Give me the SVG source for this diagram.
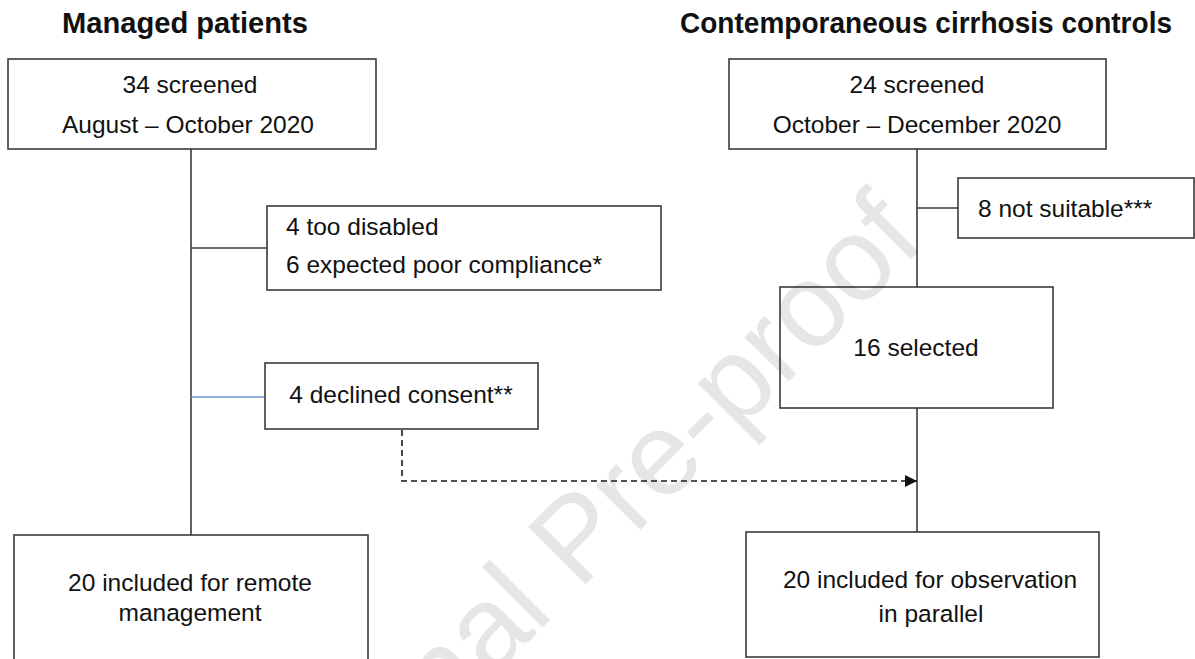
<svg xmlns="http://www.w3.org/2000/svg" width="1195" height="659" viewBox="0 0 1195 659">
<defs>
<style>
.box{fill:none;stroke:#3a3a3a;stroke-width:1.6}
.ln{fill:none;stroke:#3a3a3a;stroke-width:1.6}
.blue{fill:none;stroke:#6f8fc8;stroke-width:1.6}
.dash{fill:none;stroke:#1a1a1a;stroke-width:1.6;stroke-dasharray:6 4}
.t{font-family:"Liberation Sans",Arial,sans-serif;font-size:24.5px;fill:#111}
.c{text-anchor:middle}
.h{font-family:"Liberation Sans",Arial,sans-serif;font-size:29px;font-weight:bold;fill:#111}
.wm{font-family:"Liberation Sans",Arial,sans-serif;font-size:118px;fill:#e6e6e6}
</style>
<marker id="arr" viewBox="0 0 12 12" refX="12" refY="6" markerWidth="12" markerHeight="12" markerUnits="userSpaceOnUse" orient="auto">
<path d="M0,0 L12,6 L0,12 Z" fill="#111"/>
</marker>
</defs>
<rect width="1195" height="659" fill="#fff"/>
<text class="wm" transform="translate(282,888) rotate(-45)">Journal Pre-proof</text>

<g id="titles">
<text class="h" x="62" y="33" textLength="246" lengthAdjust="spacingAndGlyphs">Managed patients</text>
<text class="h" x="680" y="33" textLength="492" lengthAdjust="spacingAndGlyphs">Contemporaneous cirrhosis controls</text>
</g>

<g id="connectors">
<path class="ln" d="M191,149 V535"/>
<path class="ln" d="M191,248 H267"/>
<path class="blue" d="M191,397 H265"/>
<path class="ln" d="M917,149 V287"/>
<path class="ln" d="M917,208 H958"/>
<path class="ln" d="M917,408 V532"/>
<path class="dash" d="M402,430 V481 H917" marker-end="url(#arr)"/>
</g>

<g id="n-screened-managed">
<rect class="box" x="8" y="59" width="368" height="90"/>
<text class="t c" x="190" y="93">34 screened</text>
<text class="t c" x="188" y="133">August – October 2020</text>
</g>

<g id="n-screened-controls">
<rect class="box" x="729" y="59" width="377" height="90"/>
<text class="t c" x="917" y="93">24 screened</text>
<text class="t c" x="917" y="133">October – December 2020</text>
</g>

<g id="n-excluded">
<rect class="box" x="267" y="206" width="394" height="84"/>
<text class="t" x="286" y="235">4 too disabled</text>
<text class="t" x="286" y="273">6 expected poor compliance*</text>
</g>

<g id="n-declined">
<rect class="box" x="265" y="363" width="273" height="66"/>
<text class="t c" x="401" y="403">4 declined consent**</text>
</g>

<g id="n-not-suitable">
<rect class="box" x="958" y="178" width="236" height="60"/>
<text class="t" x="978" y="217">8 not suitable***</text>
</g>

<g id="n-selected">
<rect class="box" x="780" y="287" width="273" height="121"/>
<text class="t c" x="916" y="356">16 selected</text>
</g>

<g id="n-included-managed">
<rect class="box" x="14" y="535" width="354" height="130"/>
<text class="t c" x="190" y="591">20 included for remote</text>
<text class="t c" x="190" y="621">management</text>
</g>

<g id="n-included-controls">
<rect class="box" x="746" y="532" width="353" height="125"/>
<text class="t c" x="930" y="588">20 included for observation</text>
<text class="t c" x="931" y="622">in parallel</text>
</g>
</svg>
